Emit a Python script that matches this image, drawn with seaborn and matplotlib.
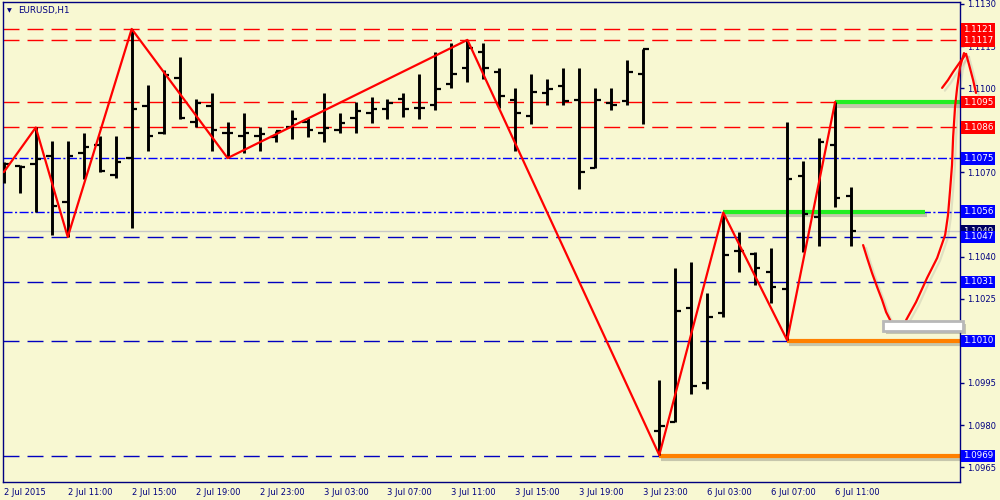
import numpy as np
import pandas as pd
import matplotlib
matplotlib.use("Agg")
import matplotlib.pyplot as plt
import matplotlib.patheffects as pe
from matplotlib.patches import Rectangle
from matplotlib.transforms import blended_transform_factory
import seaborn as sns

# ---------------- data ----------------
opens = [1.10715, 1.10723, 1.10730, 1.10758, 1.10594, 1.10769, 1.10797, 1.10691, 1.10751, 1.10936,
         1.10840, 1.11036, 1.10879, 1.10936, 1.10840, 1.10830, 1.10830, 1.10826, 1.10862, 1.10879,
         1.10840, 1.10851, 1.10894, 1.10912, 1.10926, 1.10961, 1.10929, 1.10940, 1.11015, 1.11072,
         1.11129, 1.11058, 1.10958, 1.10901, 1.10983, 1.11008, 1.10958, 1.10716, 1.10947, 1.10954,
         1.11051, 1.09778, 1.09810, 1.10217, 1.09949, 1.10199, 1.10420, 1.10409, 1.10345, 1.10284,
         1.10687, 1.10541, 1.10797, 1.10616]
highs = [1.10737, 1.10726, 1.10860, 1.10812, 1.10812, 1.10840, 1.10830, 1.10830, 1.11211, 1.11011,
         1.11065, 1.11111, 1.10961, 1.10983, 1.10879, 1.10912, 1.10862, 1.10847, 1.10922, 1.10894,
         1.10983, 1.10912, 1.10951, 1.10969, 1.10961, 1.10983, 1.11051, 1.11129, 1.11161, 1.11172,
         1.11161, 1.11072, 1.11001, 1.11051, 1.11033, 1.11072, 1.11072, 1.11001, 1.11001, 1.11100,
         1.11140, 1.09960, 1.10359, 1.10381, 1.10270, 1.10557, 1.10487, 1.10416, 1.10430, 1.10879,
         1.10741, 1.10822, 1.10951, 1.10648]
lows = [1.10662, 1.10626, 1.10559, 1.10477, 1.10470, 1.10676, 1.10701, 1.10680, 1.10502, 1.10776,
        1.10838, 1.10890, 1.10862, 1.10776, 1.10751, 1.10769, 1.10776, 1.10808, 1.10819, 1.10826,
        1.10808, 1.10840, 1.10840, 1.10876, 1.10890, 1.10897, 1.10890, 1.10922, 1.11001, 1.11022,
        1.11033, 1.10929, 1.10776, 1.10872, 1.10940, 1.10940, 1.10641, 1.10716, 1.10922, 1.10940,
        1.10872, 1.09693, 1.09810, 1.09910, 1.09928, 1.10185, 1.10345, 1.10299, 1.10234, 1.10102,
        1.10416, 1.10438, 1.10577, 1.10438]
closes = [1.10730, 1.10719, 1.10748, 1.10580, 1.10758, 1.10790, 1.10705, 1.10737, 1.10926, 1.10830,
          1.11047, 1.10894, 1.10947, 1.10851, 1.10840, 1.10840, 1.10837, 1.10847, 1.10890, 1.10851,
          1.10858, 1.10876, 1.10919, 1.10926, 1.10947, 1.10926, 1.10929, 1.10997, 1.11051, 1.11143,
          1.11072, 1.10972, 1.10912, 1.10986, 1.10997, 1.10954, 1.10701, 1.10958, 1.10940, 1.11058,
          1.11140, 1.09796, 1.10206, 1.09939, 1.10185, 1.10405, 1.10420, 1.10359, 1.10291, 1.10676,
          1.10552, 1.10808, 1.10609, 1.10491]

# ZigZag pivots (bar index, price)
zz_bars = [0, 2, 4, 8, 14, 29, 41, 45, 49, 52]
zz_prices = [1.10701, 1.10860, 1.10470, 1.11211, 1.10751, 1.11172, 1.09693, 1.10557, 1.10102, 1.10951]

# horizontal levels
red_levels = [1.1121, 1.1117, 1.1095, 1.1086]
blue_dashdot_levels = [1.1075, 1.1056]
blue_dash_levels = [1.1047, 1.1031, 1.1010, 1.0969]
bid_price = 1.1049

# highlighted segments: (start bar, end bar, price)
green_segments = [(45, 57.6, 1.1056), (52, 59.9, 1.1095)]
orange_segments = [(49, 59.9, 1.1010), (41, 59.9, 1.0969)]

# right axis ticks (labels hidden under price boxes are left blank, as in the reference)
y_ticks = [1.1130, 1.1115, 1.1100, 1.1085, 1.1070, 1.1055, 1.1040, 1.1025, 1.1010, 1.0995, 1.0980, 1.0965]
y_tick_labels = ["1.1130", "1.1115", "1.1100", "", "1.1070", "", "1.1040", "1.1025", "", "1.0995",
                 "1.0980", "1.0965"]

# time axis
x_tick_bars = [0, 4, 8, 12, 16, 20, 24, 28, 32, 36, 40, 44, 48, 52]
x_tick_labels = ["2 Jul 2015", "2 Jul 11:00", "2 Jul 15:00", "2 Jul 19:00", "2 Jul 23:00",
                 "3 Jul 03:00", "3 Jul 07:00", "3 Jul 11:00", "3 Jul 15:00", "3 Jul 19:00",
                 "3 Jul 23:00", "6 Jul 03:00", "6 Jul 07:00", "6 Jul 11:00"]

# hand-drawn annotation strokes (bar units, price)
stroke1_x = [53.75, 54.0, 54.31, 54.63, 54.94, 55.19, 55.44]
stroke1_y = [1.10441, 1.10395, 1.10341, 1.10291, 1.10245, 1.10202, 1.10174]
stroke2_x = [56.44, 57.06, 57.75, 58.38, 58.88, 59.06, 59.19, 59.31, 59.38, 59.5, 59.63, 59.81, 60.06]
stroke2_y = [1.10174, 1.10238, 1.10324, 1.10395, 1.10477, 1.10548, 1.10637, 1.10726, 1.10826,
             1.10933, 1.11001, 1.11075, 1.11125]
arrow_l_x = [58.69, 59.06, 59.38, 59.81, 60.19]
arrow_l_y = [1.11001, 1.11029, 1.11058, 1.11093, 1.11122]
arrow_r_x = [60.19, 60.38, 60.63, 60.81]
arrow_r_y = [1.11122, 1.11083, 1.11029, 1.10983]
white_box = (55.0, 1.10135, 5.0, 0.00035)  # x, y, width, height

# ---------------- style ----------------
BG = "#f8f8d2"
NAVY = "#000080"
sns.set_style("white")
plt.rcParams["font.family"] = ["DejaVu Sans"]
plt.rcParams["lines.scale_dashes"] = False

fig = plt.figure(figsize=(10, 5), dpi=100, facecolor=BG)
ax = fig.add_axes([0.003, 0.036, 0.957, 0.96])
ax.set_facecolor(BG)

bars = np.arange(len(opens))
df = pd.DataFrame({"bar": bars, "open": opens, "high": highs, "low": lows, "close": closes})

# levels
for lv in red_levels:
    ax.axhline(lv, color="#ff0000", lw=1.0, linestyle=(0, (11.5, 5.8)), zorder=1)
for lv in blue_dashdot_levels:
    ax.axhline(lv, color="#0000ff", lw=1.0, linestyle=(0, (6.5, 1.8, 1.5, 1.8)), zorder=1)
for lv in blue_dash_levels:
    ax.axhline(lv, color="#0000c0", lw=1.0, linestyle=(0, (11.5, 5.8)), zorder=1)
ax.axhline(bid_price, color="#c8c8c8", lw=1.0, zorder=0.9)

shadow = [pe.SimpleLineShadow(offset=(1.5, -2.5), shadow_color="#555555", alpha=0.3), pe.Normal()]
for x0, x1, p in green_segments:
    ax.plot([x0, x1], [p, p], color="#22ee22", lw=3.0, solid_capstyle="butt",
            path_effects=shadow, zorder=2, clip_on=False)
for x0, x1, p in orange_segments:
    ax.plot([x0, x1], [p, p], color="#ff8000", lw=3.0, solid_capstyle="butt",
            path_effects=shadow, zorder=2, clip_on=False)

# OHLC bars
ax.vlines(df["bar"], df["low"], df["high"], color="black", lw=2.1, zorder=3)
ax.hlines(df["open"], df["bar"] - 0.33, df["bar"], color="black", lw=1.6, zorder=3)
ax.hlines(df["close"], df["bar"], df["bar"] + 0.33, color="black", lw=1.6, zorder=3)

# ZigZag
zz = pd.DataFrame({"bar": zz_bars, "price": zz_prices})
sns.lineplot(data=zz, x="bar", y="price", sort=False, estimator=None, color="#ff0000",
             lw=1.6, ax=ax, zorder=4)

# hand drawn strokes
stroke_fx = [pe.SimpleLineShadow(offset=(2, -2), shadow_color="#777777", alpha=0.18), pe.Normal()]
for xs, ys in [(stroke1_x, stroke1_y), (stroke2_x, stroke2_y), (arrow_l_x, arrow_l_y), (arrow_r_x, arrow_r_y)]:
    ax.plot(xs, ys, color="#ff0000", lw=1.6, clip_on=False, zorder=6, path_effects=stroke_fx,
            solid_capstyle="round")

bx, by, bw, bh = white_box
rect = Rectangle((bx, by), bw, bh, facecolor="white", edgecolor="#b8b8b8", lw=2.0, zorder=7,
                 clip_on=False,
                 path_effects=[pe.SimplePatchShadow(offset=(2, -2), shadow_rgbFace="#555555", alpha=0.3), pe.Normal()])
ax.add_patch(rect)

# axes
ax.set_xlim(-0.05, 59.81)
ax.set_ylim(1.09597, 1.11307)
ax.set_xlabel("")
ax.set_ylabel("")
for s in ax.spines.values():
    s.set_color(NAVY)
    s.set_linewidth(1.0)

ax.set_xticks(x_tick_bars)
ax.set_xticklabels(x_tick_labels, ha="left")
ax.yaxis.tick_right()
ax.set_yticks(y_ticks)
ax.set_yticklabels(y_tick_labels)
ax.tick_params(axis="x", direction="out", length=3, width=1, color=NAVY, labelcolor=NAVY,
               labelsize=6, pad=1)
ax.tick_params(axis="y", direction="out", length=3, width=1, color=NAVY, labelcolor=NAVY,
               labelsize=6, pad=2)
for lab in ax.get_xticklabels():
    lab.set_horizontalalignment("left")

# price labels on right
trans = blended_transform_factory(ax.transAxes, ax.transData)
def price_box(p, fc):
    ax.text(1.003, p, f"{p:.4f}", transform=trans, ha="left", va="center", fontsize=6.3,
            color="white", zorder=10, clip_on=False,
            bbox=dict(boxstyle="square,pad=0.2", fc=fc, ec="none"))

price_box(bid_price, "#000060")
for lv in red_levels:
    price_box(lv, "#ff0000")
for lv in blue_dashdot_levels + blue_dash_levels:
    price_box(lv, "#0000ff")

# title
fig.text(0.007, 1 - 10.5 / 500, "\u25BC", fontsize=4.5, color=NAVY, va="center", ha="left")
fig.text(0.018, 1 - 10.5 / 500, "EURUSD,H1", fontsize=6.3, color=NAVY, va="center", ha="left")

fig.savefig("out.png", dpi=100, facecolor=BG)
